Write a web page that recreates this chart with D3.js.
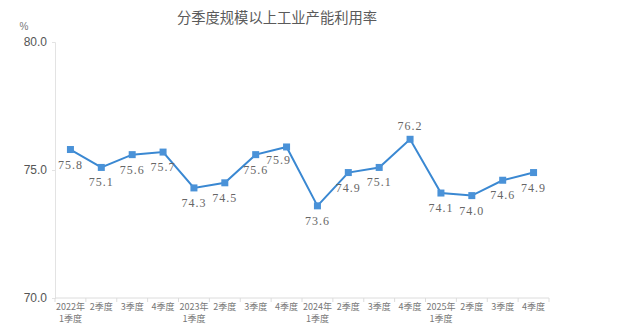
<!DOCTYPE html>
<html><head><meta charset="utf-8">
<script src="https://cdn.jsdelivr.net/npm/d3@7"></script>
<style>body{margin:0;background:#fff}svg{display:block}</style>
</head><body>
<svg id="c" width="625" height="334"></svg>
<script>
const title = "分季度规模以上工业产能利用率";
const quarterLine1 = ["2022年","2季度","3季度","4季度","2023年","2季度","3季度","4季度","2024年","2季度","3季度","4季度","2025年","2季度","3季度","4季度"];
const quarterLine2 = ["1季度","","","","1季度","","","","1季度","","","","1季度","","",""];
const values = [75.8,75.1,75.6,75.7,74.3,74.5,75.6,75.9,73.6,74.9,75.1,76.2,74.1,74.0,74.6,74.9];
const yTicks = [70,75,80];
const unit = "%";

const svg = d3.select("#c");
const m = {l:55, r:76, t:42, b:36};
const W = 625, H = 334;
const keys = d3.range(values.length);
const x = d3.scaleBand().domain(keys).range([m.l, W - m.r]);
const y = d3.scaleLinear().domain([70,80]).range([H - m.b, m.t]);

svg.append("text").attr("x",277).attr("y",23).attr("text-anchor","middle")
  .attr("font-family","'Noto Sans CJK SC',sans-serif").attr("font-size",14.3)
  .attr("fill","#5a5a5a").text(title);

svg.append("text").attr("x",24).attr("y",30).attr("text-anchor","middle")
  .attr("font-family","'Liberation Sans',sans-serif").attr("font-size",10)
  .attr("fill","#777").text(unit);

// y axis
const ya = svg.append("g").attr("transform",`translate(${m.l},0)`)
  .call(d3.axisLeft(y).tickValues(yTicks).tickFormat(d3.format(".1f")).tickSize(3).tickPadding(5));
ya.select(".domain").attr("stroke","#e3e3e3");
ya.selectAll(".tick line").attr("stroke","#e3e3e3");
ya.selectAll(".tick text").attr("font-family","'Liberation Sans',sans-serif")
  .attr("font-size",12).attr("fill","#555");

// x axis
const xa = svg.append("g").attr("transform",`translate(0,${H - m.b})`);
xa.append("line").attr("x1",m.l).attr("x2",W - m.r).attr("stroke","#dcdcdc");
xa.selectAll("line.tk").data(d3.range(values.length+1)).join("line").attr("class","tk")
  .attr("x1",i => m.l + i*x.step()).attr("x2",i => m.l + i*x.step())
  .attr("y1",0).attr("y2",4).attr("stroke","#dcdcdc");
const xl = xa.selectAll("text.xl").data(keys).join("text").attr("class","xl")
  .attr("x",i => x(i) + x.bandwidth()/2).attr("text-anchor","middle")
  .attr("font-family","'Noto Sans CJK SC',sans-serif").attr("font-size",9).attr("fill","#777");
xl.append("tspan").attr("x",i => x(i) + x.bandwidth()/2).attr("y",12).text(i => quarterLine1[i]);
xl.append("tspan").attr("x",i => x(i) + x.bandwidth()/2).attr("y",24).text(i => quarterLine2[i]);

// line
const cx = i => x(i) + x.bandwidth()/2;
svg.append("path").datum(keys)
  .attr("d", d3.line().x(cx).y(i => y(values[i])))
  .attr("fill","none").attr("stroke","#3a88d2").attr("stroke-width",2);

svg.selectAll("rect.mk").data(keys).join("rect").attr("class","mk")
  .attr("x",i => cx(i) - 3.5).attr("y",i => y(values[i]) - 3.5)
  .attr("width",7).attr("height",7).attr("fill","#4a92d8");

// labels: below each point, above for the peak
const peak = d3.maxIndex(values);
svg.selectAll("text.lb").data(keys).join("text").attr("class","lb")
  .attr("x",i => cx(i) + (i === 7 ? -8 : 0))
  .attr("y",i => y(values[i]) + (i === peak ? -9 : (i === 7 ? 17 : 19)))
  .attr("text-anchor","middle")
  .attr("font-family","'Liberation Serif',serif").attr("font-size",12)
  .attr("letter-spacing",1).attr("fill","#666")
  .text(i => values[i].toFixed(1));
</script>
</body></html>
